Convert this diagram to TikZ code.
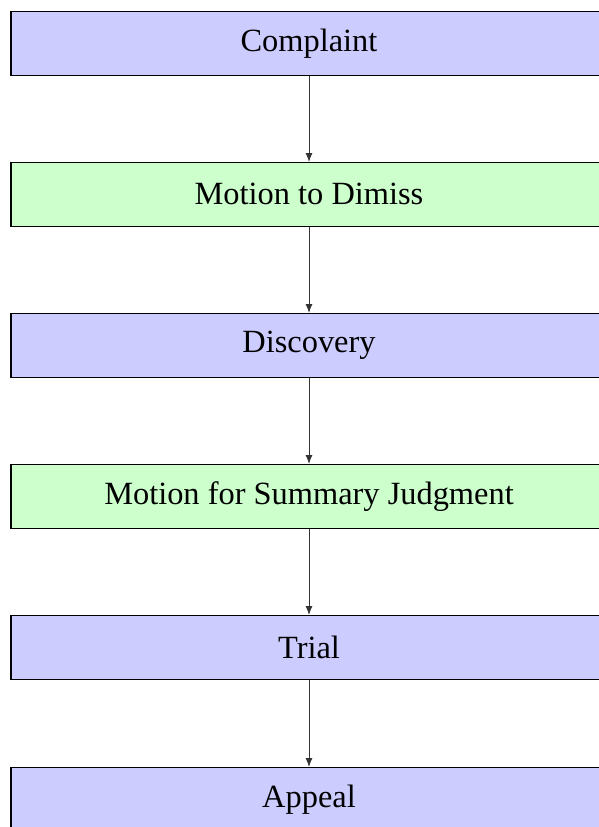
\documentclass[tikz,border=0pt]{standalone}
\usepackage{fontspec}
\setmainfont{Liberation Serif}
\usetikzlibrary{arrows.meta}
\definecolor{boxblue}{HTML}{CCCCFF}
\definecolor{boxgreen}{HTML}{CCFFCC}
\begin{document}
\begin{tikzpicture}[x=1pt,y=-1pt,
  stagebox/.style={draw=black, line width=1.1pt, minimum width=596pt, minimum height=63.5pt,
    inner sep=0pt, anchor=north, font=\fontsize{32.4}{37}\selectfont},
  bluebox/.style={stagebox, fill=boxblue},
  greenbox/.style={stagebox, fill=boxgreen},
  flow/.style={draw=black!80, line width=1pt, -{Latex[length=9pt,width=7pt]}}]
\useasboundingbox (0,0) rectangle (598,827);
\node[bluebox]  (a) at (309,11)  {Complaint};
\node[greenbox] (b) at (309,162) {Motion to Dimiss};
\node[bluebox]  (c) at (309,313) {Discovery};
\node[greenbox] (d) at (309,464) {Motion for Summary Judgment};
\node[bluebox]  (e) at (309,615) {Trial};
\node[bluebox]  (f) at (309,767) {Appeal};
\draw[flow] (a) -- (b);
\draw[flow] (b) -- (c);
\draw[flow] (c) -- (d);
\draw[flow] (d) -- (e);
\draw[flow] (e) -- (f);
\end{tikzpicture}
\end{document}
